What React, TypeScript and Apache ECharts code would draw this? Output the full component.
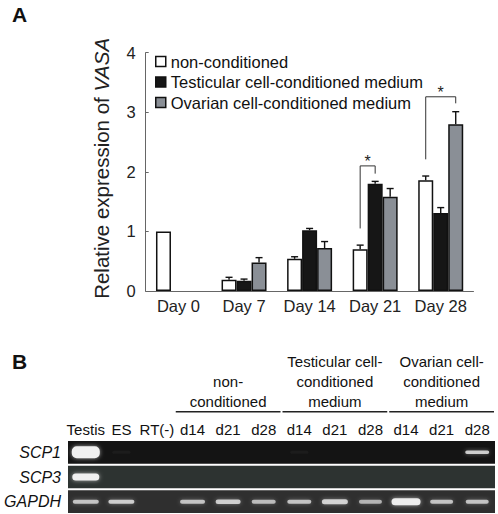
import React, { useEffect, useRef } from "react";
import * as echarts from "echarts";

// ---------- Panel A data ----------
const categories = ["Day 0", "Day 7", "Day 14", "Day 21", "Day 28"];
const seriesNames = [
  "non-conditioned",
  "Testicular cell-conditioned medium",
  "Ovarian cell-conditioned medium",
];
const nonConditioned = [1.0, 0.19, 0.54, 0.7, 1.86];
const testicular = [null, 0.17, 1.02, 1.8, 1.31];
const ovarian = [null, 0.48, 0.72, 1.58, 2.8];
const nonConditionedErr = [0, 0.04, 0.035, 0.07, 0.07];
const testicularErr = [null, 0.03, 0.03, 0.04, 0.09];
const ovarianErr = [null, 0.08, 0.11, 0.14, 0.21];
const yTicks = { min: 0, max: 4, interval: 1 };
// [category, fromSeries, toSeries, yFrom, yTop, yTo]
const sigBrackets = [
  [3, 0, 1, 1.05, 2.1, 1.97],
  [4, 0, 2, 2.21, 3.26, 3.15],
];

// ---------- Panel B data ----------
const lanes = ["Testis", "ES", "RT(-)", "d14", "d21", "d28", "d14", "d21", "d28", "d14", "d21", "d28"];
const genes = ["SCP1", "SCP3", "GAPDH"];
// [startLane, endLane, label]
const laneGroups: [number, number, string][] = [
  [3, 5, "non-\nconditioned"],
  [6, 8, "Testicular cell-\nconditioned\nmedium"],
  [9, 11, "Ovarian cell-\nconditioned\nmedium"],
];
// [lane, gene, brightness, width, height]
const bands = [
  [0, 0, 1.0, 28, 12],
  [1, 0, 0.04, 18, 3],
  [6, 0, 0.04, 18, 3],
  [11, 0, 0.8, 24, 3.5],
  [0, 1, 1.0, 27, 7],
  [0, 2, 0.72, 26, 4],
  [1, 2, 0.78, 26, 4],
  [3, 2, 0.72, 25, 4],
  [4, 2, 0.78, 25, 4.5],
  [5, 2, 0.68, 24, 4],
  [6, 2, 0.72, 24, 4],
  [7, 2, 0.8, 26, 5],
  [8, 2, 0.64, 23, 4],
  [9, 2, 0.98, 29, 7],
  [10, 2, 0.72, 23, 4],
  [11, 2, 0.72, 23, 4],
];

const FONT = "Liberation Sans, Arial, Helvetica, sans-serif";
const BAR_W = 15;
const barColors = ["#ffffff", "#161616", "#8a8f96"];
const rowShades = ["#141414", "#2d3331", "#2f2f2f"];

export default function App() {
  const ref = useRef<HTMLDivElement>(null);

  useEffect(() => {
    if (!ref.current) return;
    const chart = echarts.init(ref.current, undefined, { renderer: "svg" });

    const values = [nonConditioned, testicular, ovarian];
    const errs = [nonConditionedErr, testicularErr, ovarianErr];
    const errData: number[][] = [];
    values.forEach((vals, s) => {
      vals.forEach((v, c) => {
        const e = errs[s][c];
        if (v != null && e != null && e > 0) errData.push([c, v as number, e as number, s]);
      });
    });

    const option: any = {
      animation: false,
      textStyle: { fontFamily: FONT },
      grid: [
        { left: 145.7, top: 52.7, width: 327.8, height: 238.3 },
        { left: 68, top: 440, width: 427, height: 74 },
      ],
      legend: {
        data: seriesNames,
        orient: "vertical",
        left: 155,
        top: 53,
        padding: 0,
        itemGap: 3.5,
        itemWidth: 10,
        itemHeight: 10,
        icon: "rect",
        itemStyle: { borderColor: "#111", borderWidth: 1.5 },
        textStyle: { fontSize: 16.5, color: "#111", lineHeight: 16, fontFamily: FONT },
        selectedMode: false,
      },
      xAxis: [
        {
          type: "category",
          gridIndex: 0,
          data: categories,
          axisLine: { lineStyle: { color: "#666", width: 1 } },
          axisTick: { inside: true, length: 3, lineStyle: { color: "#666" } },
          axisLabel: { interval: 0, fontSize: 16.5, color: "#222", margin: 6.5, fontFamily: FONT },
        },
        {
          type: "category",
          gridIndex: 1,
          position: "top",
          data: lanes,
          axisLine: { show: false },
          axisTick: { show: false },
          axisLabel: { interval: 0, fontSize: 15, color: "#111", margin: 3, fontFamily: FONT },
        },
      ],
      yAxis: [
        {
          type: "value",
          gridIndex: 0,
          min: yTicks.min,
          max: yTicks.max,
          interval: yTicks.interval,
          splitLine: { show: false },
          axisLine: { show: true, lineStyle: { color: "#666", width: 1 } },
          axisTick: { show: true, inside: true, length: 3, lineStyle: { color: "#666" } },
          axisLabel: { fontSize: 16.5, color: "#222", margin: 10, fontFamily: FONT },
        },
        {
          type: "category",
          gridIndex: 1,
          inverse: true,
          data: genes,
          axisLine: { show: false },
          axisTick: { show: false },
          axisLabel: { fontSize: 16, fontStyle: "italic", color: "#111", margin: 7, fontFamily: FONT },
        },
      ],
      series: [
        ...values.map((vals, s) => ({
          type: "bar",
          name: seriesNames[s],
          xAxisIndex: 0,
          yAxisIndex: 0,
          data: vals,
          barWidth: BAR_W,
          barGap: "0%",
          itemStyle: { color: barColors[s], borderColor: "#111", borderWidth: 1.5 },
          z: 2,
        })),
        {
          type: "custom",
          name: "errors",
          xAxisIndex: 0,
          yAxisIndex: 0,
          data: errData,
          z: 3,
          renderItem: (params: any, api: any) => {
            const c = api.value(0);
            const v = api.value(1);
            const e = api.value(2);
            const s = api.value(3);
            const base = api.coord([c, v]);
            const top = api.coord([c, v + e]);
            const x = base[0] + (s - 1) * BAR_W;
            const st = { stroke: "#111", lineWidth: 1.4 };
            return {
              type: "group",
              children: [
                { type: "line", shape: { x1: x, y1: base[1], x2: x, y2: top[1] }, style: st },
                { type: "line", shape: { x1: x - 3.5, y1: top[1], x2: x + 3.5, y2: top[1] }, style: st },
              ],
            };
          },
        },
        {
          type: "custom",
          name: "significance",
          xAxisIndex: 0,
          yAxisIndex: 0,
          data: sigBrackets,
          z: 4,
          renderItem: (params: any, api: any) => {
            const c = api.value(0);
            const f = api.value(1);
            const t = api.value(2);
            const pFrom = api.coord([c, api.value(3)]);
            const pTop = api.coord([c, api.value(4)]);
            const pTo = api.coord([c, api.value(5)]);
            const xl = pFrom[0] + (f - 1) * BAR_W;
            const xr = pFrom[0] + (t - 1) * BAR_W;
            const st = { stroke: "#333", lineWidth: 1, fill: null };
            return {
              type: "group",
              children: [
                {
                  type: "polyline",
                  shape: { points: [[xl, pFrom[1]], [xl, pTop[1]], [xr, pTop[1]], [xr, pTo[1]]] },
                  style: st,
                },
                {
                  type: "text",
                  style: {
                    text: "*",
                    x: (xl + xr) / 2,
                    y: pTop[1] - 4,
                    textAlign: "center",
                    textVerticalAlign: "middle",
                    font: `16px ${FONT}`,
                    fill: "#222",
                  },
                },
              ],
            };
          },
        },
        {
          type: "custom",
          name: "gelRows",
          xAxisIndex: 1,
          yAxisIndex: 1,
          data: genes.map((_, i) => [0, i]),
          z: 1,
          renderItem: (params: any, api: any) => {
            const g = api.value(1);
            const cs = params.coordSys;
            const cy = api.coord([0, g])[1];
            const h = api.size([0, 1])[1];
            return {
              type: "rect",
              shape: { x: cs.x, y: cy - h / 2 + 1, width: cs.width, height: h - 2 },
              style: { fill: rowShades[g] },
            };
          },
        },
        {
          type: "custom",
          name: "bands",
          xAxisIndex: 1,
          yAxisIndex: 1,
          data: bands,
          z: 2,
          renderItem: (params: any, api: any) => {
            const p = api.coord([api.value(0), api.value(1)]);
            const b = api.value(2);
            const w = api.value(3);
            const h = api.value(4);
            return {
              type: "rect",
              shape: { x: p[0] - w / 2, y: p[1] - h / 2, width: w, height: h, r: Math.min(h / 2, 5) },
              style: {
                fill: `rgba(240,240,240,${b})`,
                shadowBlur: 4,
                shadowColor: `rgba(220,220,220,${b * 0.7})`,
              },
            };
          },
        },
        {
          type: "custom",
          name: "laneGroups",
          xAxisIndex: 1,
          yAxisIndex: 1,
          data: laneGroups.map((g) => [g[0], g[1], 0]),
          z: 3,
          renderItem: (params: any, api: any) => {
            const s = api.value(0);
            const e = api.value(1);
            const half = api.size([1, 0])[0] / 2;
            const x1 = api.coord([s, 0])[0] - half + 1;
            const x2 = api.coord([e, 0])[0] + half - 1;
            const y = 411.7;
            return {
              type: "group",
              children: [
                { type: "line", shape: { x1, y1: y, x2, y2: y }, style: { stroke: "#222", lineWidth: 1.5 } },
                {
                  type: "text",
                  style: {
                    text: laneGroups[params.dataIndex][2],
                    x: (x1 + x2) / 2,
                    y: y - 0.5,
                    textAlign: "center",
                    textVerticalAlign: "bottom",
                    font: `15px ${FONT}`,
                    lineHeight: 20,
                    fill: "#111",
                  },
                },
              ],
            };
          },
        },
      ],
      graphic: [
        {
          type: "text",
          left: 12,
          top: 4,
          style: { text: "A", font: `bold 21px ${FONT}`, fill: "#111" },
        },
        {
          type: "text",
          left: 12,
          top: 351,
          style: { text: "B", font: `bold 21px ${FONT}`, fill: "#111" },
        },
        {
          type: "text",
          x: 101.7,
          y: 168.4,
          rotation: Math.PI / 2,
          style: {
            text: "Relative expression of {i|VASA}",
            textAlign: "center",
            textVerticalAlign: "middle",
            font: `20.5px ${FONT}`,
            fill: "#222",
            rich: { i: { fontStyle: "italic", fontSize: 20.5, fontFamily: FONT, fill: "#222" } },
          },
        },
      ],
    };

    chart.setOption(option);
    return () => chart.dispose();
  }, []);

  return (
    <div
      ref={ref}
      style={{ position: "fixed", left: 0, top: 0, width: 498, height: 514, background: "#fff" }}
    />
  );
}
